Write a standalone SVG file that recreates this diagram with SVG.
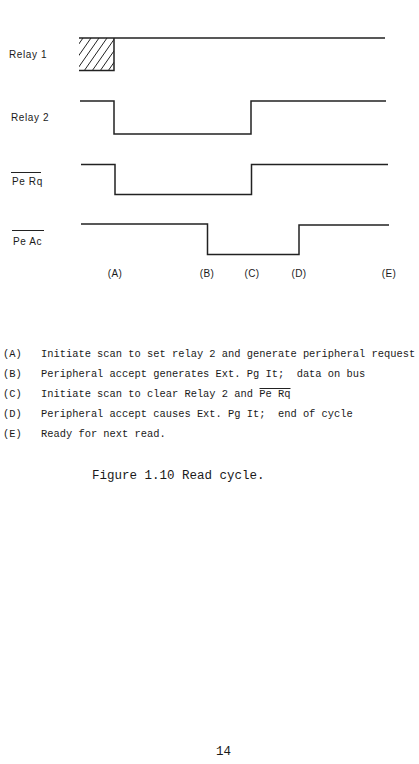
<svg xmlns="http://www.w3.org/2000/svg" width="419" height="764" viewBox="0 0 419 764">
<style>
.sig{fill:none;stroke:#222;stroke-width:1.5;stroke-linejoin:miter}
.hatch{stroke:#222;stroke-width:1}
.lbl{font-family:"Liberation Sans",Arial,sans-serif;font-size:10px;fill:#1a1a1a;letter-spacing:0.6px}
.mk{font-family:"Liberation Sans",Arial,sans-serif;font-size:10px;fill:#1a1a1a;text-anchor:middle;letter-spacing:0.4px}
.mono{font-family:"Liberation Mono","Courier New",monospace;font-size:10.4px;fill:#1a1a1a;white-space:pre}
.cap{font-family:"Liberation Mono","Courier New",monospace;font-size:12.5px;fill:#1a1a1a}
.ol{stroke:#222;stroke-width:1}
</style>
<defs>
<clipPath id="box"><rect x="79" y="38" width="35" height="33"/></clipPath>
</defs>
<rect width="419" height="764" fill="#fff"/>
<g id="relay1">
<text class="lbl" x="9" y="58">Relay 1</text>
<g clip-path="url(#box)">
<line class="hatch" x1="60" y1="71" x2="83" y2="38"/>
<line class="hatch" x1="68" y1="71" x2="91" y2="38"/>
<line class="hatch" x1="76" y1="71" x2="99" y2="38"/>
<line class="hatch" x1="84" y1="71" x2="107" y2="38"/>
<line class="hatch" x1="92" y1="71" x2="115" y2="38"/>
<line class="hatch" x1="100" y1="71" x2="123" y2="38"/>
<line class="hatch" x1="108" y1="71" x2="131" y2="38"/>
</g>
<path class="sig" d="M79,38 H385 M79,70.5 H114 V38"/>
</g>
<g id="relay2">
<text class="lbl" x="11" y="121">Relay 2</text>
<path class="sig" d="M80,101 H114 V134 H251 V101 H386"/>
</g>
<g id="perq">
<text class="lbl" x="12" y="185">Pe Rq</text>
<line class="ol" x1="11" y1="172.5" x2="41" y2="172.5"/>
<path class="sig" d="M81,164.5 H115 V194.5 H251.5 V164.5 H388"/>
</g>
<g id="peac">
<text class="lbl" x="13" y="245">Pe Ac</text>
<line class="ol" x1="12" y1="230.5" x2="44" y2="230.5"/>
<path class="sig" d="M81,224 H207.5 V254.5 H299 V225 H389"/>
</g>
<g id="markers">
<text class="mk" x="115" y="277">(A)</text>
<text class="mk" x="207" y="277">(B)</text>
<text class="mk" x="252" y="277">(C)</text>
<text class="mk" x="299" y="277">(D)</text>
<text class="mk" x="389" y="277">(E)</text>
</g>
<g id="notes">
<text class="mono" x="3" y="357">(A)</text>
<text class="mono" x="41" y="357">Initiate scan to set relay 2 and generate peripheral request</text>
<text class="mono" x="3" y="377">(B)</text>
<text class="mono" x="41" y="377" xml:space="preserve">Peripheral accept generates Ext. Pg It;  data on bus</text>
<text class="mono" x="3" y="397">(C)</text>
<text class="mono" x="41" y="397">Initiate scan to clear Relay 2 and Pe Rq</text>
<line class="ol" x1="259.5" y1="388.5" x2="290.5" y2="388.5"/>
<text class="mono" x="3" y="417">(D)</text>
<text class="mono" x="41" y="417" xml:space="preserve">Peripheral accept causes Ext. Pg It;  end of cycle</text>
<text class="mono" x="3" y="437">(E)</text>
<text class="mono" x="41" y="437">Ready for next read.</text>
</g>
<text class="cap" x="92" y="479">Figure 1.10 Read cycle.</text>
<text class="cap" x="216" y="755">14</text>
</svg>
